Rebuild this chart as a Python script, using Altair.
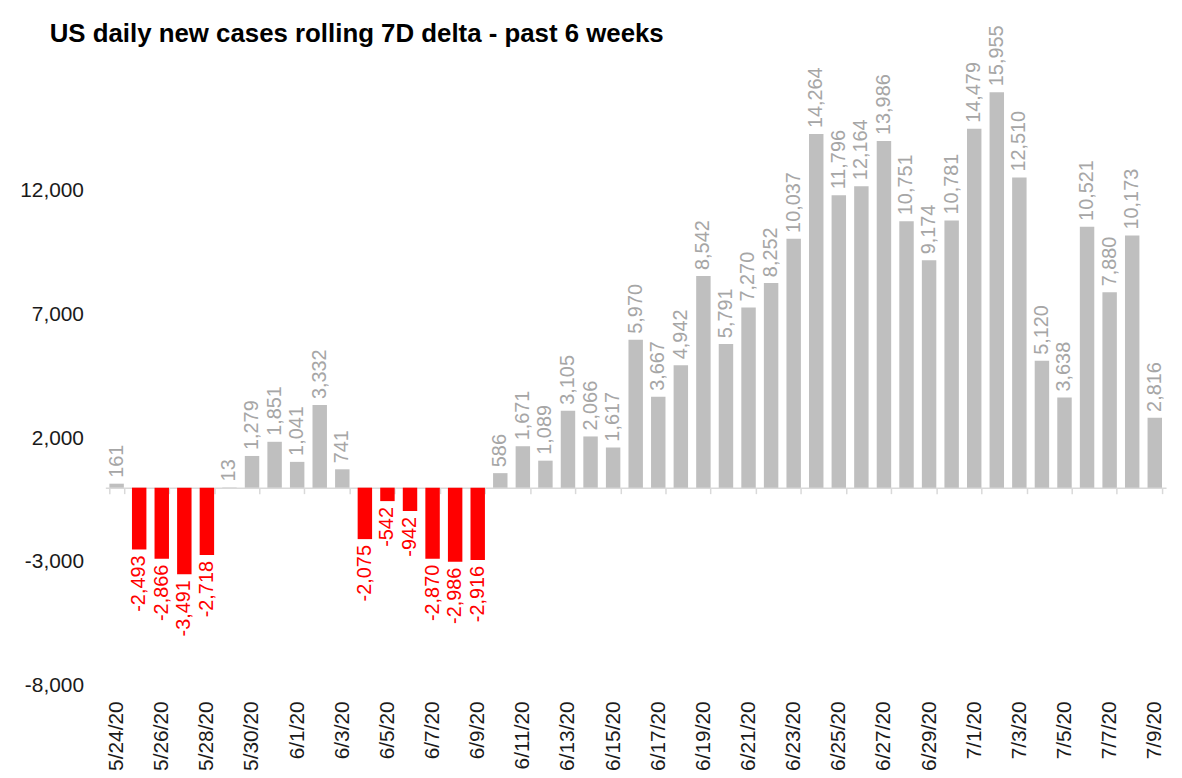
import altair as alt
import pandas as pd

dates = ["5/24/20", "5/25/20", "5/26/20", "5/27/20", "5/28/20", "5/29/20", "5/30/20", "5/31/20",
         "6/1/20", "6/2/20", "6/3/20", "6/4/20", "6/5/20", "6/6/20", "6/7/20", "6/8/20", "6/9/20",
         "6/10/20", "6/11/20", "6/12/20", "6/13/20", "6/14/20", "6/15/20", "6/16/20", "6/17/20",
         "6/18/20", "6/19/20", "6/20/20", "6/21/20", "6/22/20", "6/23/20", "6/24/20", "6/25/20",
         "6/26/20", "6/27/20", "6/28/20", "6/29/20", "6/30/20", "7/1/20", "7/2/20", "7/3/20",
         "7/4/20", "7/5/20", "7/6/20", "7/7/20", "7/8/20", "7/9/20"]
values = [161, -2493, -2866, -3491, -2718, 13, 1279, 1851,
          1041, 3332, 741, -2075, -542, -942, -2870, -2986, -2916,
          586, 1671, 1089, 3105, 2066, 1617, 5970, 3667,
          4942, 8542, 5791, 7270, 8252, 10037, 14264, 11796,
          12164, 13986, 10751, 9174, 10781, 14479, 15955, 12510,
          5120, 3638, 10521, 7880, 10173, 2816]
y_ticks = [-8000, -3000, 2000, 7000, 12000]
title = "US daily new cases rolling 7D delta - past 6 weeks"

df = pd.DataFrame({"date": dates, "value": values})
df["label"] = [f"{v:,}" for v in values]
df["sign"] = ["pos" if v >= 0 else "neg" for v in values]
shown_dates = dates[::2]

FONT = "Liberation Sans Narrow, Arial Narrow, Liberation Sans, Arial, sans-serif"
W, H = 1068, 624
YMIN, YMAX = -8000, 17000
zero_from_bottom = H * (0 - YMIN) / (YMAX - YMIN)

xenc = alt.X("date:N", sort=None, title=None,
             scale=alt.Scale(paddingInner=0.36, paddingOuter=0.18),
             axis=alt.Axis(values=shown_dates, labelAngle=-90, labelFont=FONT, labelFontSize=21,
                           labelColor="#1a1a1a", domainColor="#d9d9d9", domainWidth=1.5,
                           tickColor="#d9d9d9", tickWidth=1.5, tickSize=6, tickBand="extent",
                           offset=-zero_from_bottom, labelPadding=zero_from_bottom + 9,
                           grid=False))
yenc = alt.Y("value:Q", title=None,
             scale=alt.Scale(domain=[YMIN, YMAX], nice=False, zero=False),
             axis=alt.Axis(values=y_ticks, labelFont=FONT, labelFontSize=21, labelColor="#1a1a1a",
                           labelExpr="replace(format(datum.value, ','), '\u2212', '-')",
                           domain=False, ticks=False, grid=False, labelPadding=22))

color_scale = alt.Scale(domain=["pos", "neg"], range=["#bfbfbf", "#ff0000"])
text_scale = alt.Scale(domain=["pos", "neg"], range=["#a6a6a6", "#ff0000"])

bars = alt.Chart(df).mark_bar().encode(
    x=xenc, y=yenc, y2=alt.datum(0),
    color=alt.Color("sign:N", scale=color_scale, legend=None))

pos_text = alt.Chart(df).transform_filter("datum.value >= 0").mark_text(
    angle=270, align="left", baseline="middle", dx=6, font=FONT, fontSize=20
).encode(x=alt.X("date:N", sort=dates), y="value:Q", text="label:N",
         color=alt.Color("sign:N", scale=text_scale, legend=None))

neg_text = alt.Chart(df).transform_filter("datum.value < 0").mark_text(
    angle=270, align="right", baseline="middle", dx=-6, font=FONT, fontSize=20
).encode(x=alt.X("date:N", sort=dates), y="value:Q", text="label:N",
         color=alt.Color("sign:N", scale=text_scale, legend=None))

title_mark = alt.Chart(pd.DataFrame({"t": [title]})).mark_text(
    align="left", baseline="alphabetic", font=FONT, fontSize=26, fontWeight="bold", color="#000000"
).encode(x=alt.value(-56), y=alt.value(-24), text="t:N")

chart = alt.layer(bars, pos_text, neg_text, title_mark).resolve_scale(color="independent").properties(
    width=W, height=H,
    background="white",
    autosize=alt.AutoSizeParams(type="none"),
    padding={"left": 98, "top": 56, "right": 8, "bottom": 90},
).configure_view(strokeWidth=0, stroke="transparent")

chart.save("out.html", embed_options={"renderer": "svg", "actions": False})
